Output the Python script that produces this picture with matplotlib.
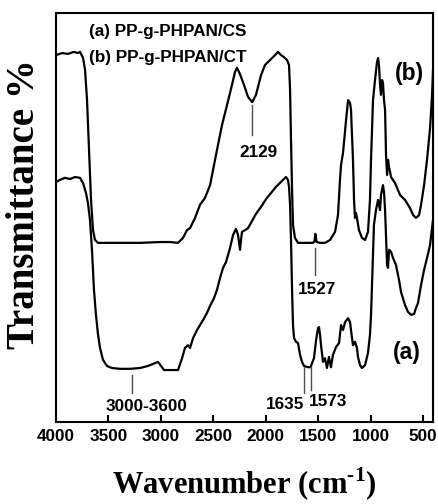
import matplotlib
matplotlib.use('Agg')
import matplotlib.pyplot as plt
from matplotlib import font_manager

# FTIR spectra, wavenumber in cm-1 and transmittance (arbitrary %, offset curves)
wn_b = [4000, 3943, 3886, 3828, 3790, 3771, 3742, 3723, 3704, 3685, 3666, 3647, 3628, 3599,
        3533, 3390, 3199, 3008, 2913, 2836, 2789, 2751, 2722, 2674, 2627, 2579, 2531, 2465,
        2417, 2369, 2322, 2293, 2274, 2255, 2236, 2207, 2169, 2129, 2093, 2045, 2007, 1959,
        1911, 1883, 1854, 1826, 1797, 1778, 1768, 1759, 1749, 1740, 1721, 1692, 1625, 1549,
        1535, 1527, 1515, 1482, 1435, 1387, 1339, 1311, 1292, 1282, 1263, 1234, 1215, 1196,
        1187, 1168, 1158, 1149, 1139, 1130, 1111, 1082, 1053, 1025, 1006, 996, 977, 958, 939,
        929, 920, 910, 901, 891, 882, 872, 862, 853, 843, 834, 824, 805, 767, 719, 672, 624,
        595, 567, 538, 519, 490, 462, 433, 414, 405]
tr_b = [89.7, 90.2, 90.0, 90.5, 90.2, 90.5, 89.0, 86.1, 78.7, 66.5, 54.3, 46.9, 44.5, 43.8,
        43.8, 43.8, 43.8, 44.0, 44.0, 43.8, 45.0, 46.9, 47.4, 49.9, 53.1, 54.8, 57.9, 66.5,
        72.6, 77.5, 82.4, 85.6, 86.6, 85.6, 84.4, 82.4, 79.5, 78.2, 80.0, 84.8, 87.3, 88.5,
        89.7, 90.5, 89.7, 89.2, 88.5, 87.3, 81.2, 68.9, 56.7, 48.2, 45.0, 43.8, 43.8, 43.8,
        44.2, 46.0, 44.0, 43.8, 43.8, 44.5, 46.5, 50.6, 59.2, 62.8, 65.8, 73.8, 78.7, 78.0,
        76.3, 64.1, 54.3, 49.9, 51.1, 49.9, 46.9, 45.0, 44.5, 46.5, 54.3, 64.1, 78.7, 83.6,
        88.0, 89.0, 87.3, 82.4, 80.0, 83.6, 82.9, 78.7, 76.3, 65.3, 60.4, 64.1, 62.3, 59.9,
        58.4, 55.5, 54.3, 52.3, 50.6, 49.9, 50.6, 53.1, 57.9, 64.1, 71.9, 80.0, 86.0]

wn_a = [4000, 3962, 3914, 3866, 3819, 3771, 3742, 3714, 3695, 3676, 3657, 3638, 3619, 3599,
        3580, 3552, 3514, 3466, 3390, 3294, 3199, 3123, 3056, 3027, 2999, 2970, 2913, 2836,
        2798, 2770, 2741, 2722, 2693, 2655, 2598, 2560, 2531, 2493, 2465, 2436, 2407, 2379,
        2360, 2341, 2312, 2284, 2264, 2245, 2236, 2226, 2198, 2169, 2140, 2093, 2045, 1997,
        1950, 1902, 1854, 1826, 1807, 1788, 1778, 1768, 1759, 1749, 1740, 1730, 1711, 1692,
        1673, 1654, 1635, 1597, 1573, 1540, 1520, 1501, 1492, 1482, 1473, 1454, 1435, 1416,
        1397, 1378, 1359, 1330, 1301, 1282, 1263, 1244, 1215, 1196, 1187, 1168, 1149, 1130,
        1120, 1101, 1082, 1053, 1025, 1006, 996, 987, 977, 968, 949, 929, 920, 910, 901, 882,
        872, 862, 853, 843, 834, 824, 805, 786, 758, 729, 710, 672, 643, 614, 586, 567, 548,
        519, 490, 462, 433, 405]
tr_a = [58.7, 59.2, 59.7, 59.4, 59.9, 59.7, 58.4, 56.0, 53.5, 49.4, 42.1, 32.3, 26.2, 21.3,
        18.1, 15.2, 13.7, 13.2, 13.0, 13.0, 13.2, 13.7, 14.4, 14.7, 13.7, 12.7, 12.7, 12.7,
        15.6, 18.1, 18.8, 18.1, 20.5, 22.5, 24.9, 26.7, 28.4, 30.3, 32.3, 35.2, 37.7, 39.1,
        40.8, 42.5, 45.7, 47.2, 45.7, 42.1, 44.5, 46.5, 46.9, 47.4, 48.7, 50.9, 52.6, 54.5,
        56.0, 57.5, 58.7, 59.4, 59.9, 59.2, 57.5, 53.1, 44.5, 32.3, 23.7, 20.5, 19.6, 19.3,
        16.4, 14.7, 13.7, 13.4, 13.4, 15.6, 20.0, 23.0, 23.2, 21.3, 18.8, 14.7, 15.6, 13.2,
        15.9, 13.4, 16.4, 18.3, 19.3, 23.7, 22.5, 24.4, 25.4, 24.4, 22.5, 18.8, 19.6, 18.1,
        15.9, 13.9, 13.2, 13.9, 16.9, 21.3, 26.2, 33.5, 42.1, 48.2, 51.8, 54.3, 53.1, 51.8,
        55.5, 57.9, 56.2, 51.8, 45.7, 38.4, 37.7, 42.1, 41.6, 40.1, 38.4, 34.7, 31.8, 28.6,
        26.9, 26.2, 26.4, 27.9, 29.1, 33.5, 37.2, 40.1, 43.3, 49.4]

# peak labels: text, wavenumber of the marker line, line ends, text position
peaks = [('2129', 2129, 77.5, 70.2, 2065, 66.0),
         ('1527', 1527, 42.5, 35.9, 1511, 32.3),
         ('3000-3600', 3275, 11.5, 7.1, 3132, 3.7),
         ('1635', 1635, 13.4, 7.1, 1816, 4.2),
         ('1573', 1573, 13.4, 7.8, 1406, 4.9)]
xticks = [4000, 3500, 3000, 2500, 2000, 1500, 1000, 500]

names = {f.name for f in font_manager.fontManager.ttflist}
if 'Liberation Sans Narrow' in names:
    sans, k = 'Liberation Sans Narrow', 1.0
else:
    sans, k = 'Liberation Sans', 0.82

plt.rcParams['mathtext.fontset'] = 'custom'
plt.rcParams['mathtext.rm'] = 'Liberation Serif:bold'
plt.rcParams['mathtext.bf'] = 'Liberation Serif:bold'

fig = plt.figure(figsize=(4.38, 5.04), dpi=100)
ax = fig.add_axes([56 / 438, 82 / 504, 377 / 438, 409 / 504])

ax.plot(wn_b, tr_b, color='black', lw=1.6)
ax.plot(wn_a, tr_a, color='black', lw=1.6)

for txt, x, y0, y1, tx, ty in peaks:
    ax.plot([x, x], [y0, y1], color='0.3', lw=1)
    ax.text(tx, ty, txt, ha='center', va='center', family=sans,
            fontweight='bold', fontsize=15 * k)

ax.text(3685, 95.4, '(a) PP-g-PHPAN/CS', ha='left', va='center', family=sans,
        fontweight='bold', fontsize=15 * k)
ax.text(3685, 89.0, '(b) PP-g-PHPAN/CT', ha='left', va='center', family=sans,
        fontweight='bold', fontsize=15 * k)
ax.text(633, 85.3, '(b)', ha='center', va='center', family=sans,
        fontweight='bold', fontsize=20 * k)
ax.text(652, 16.9, '(a)', ha='center', va='center', family=sans,
        fontweight='bold', fontsize=20 * k)

ax.set_xlim(4000, 405)
ax.set_ylim(0, 100)
ax.set_xticks(xticks)
ax.set_yticks([])
ax.tick_params(axis='x', direction='in', length=5, width=1.5, pad=5)
for lab in ax.get_xticklabels():
    lab.set_family(sans)
    lab.set_fontweight('bold')
    lab.set_fontsize(15 * k)
for sp in ax.spines.values():
    sp.set_linewidth(1.5)

fig.text(244 / 438, 1 - 484 / 504, r'Wavenumber (cm$^{\text{-1}}$)', ha='center',
         va='center', family='Liberation Serif', fontweight='bold', fontsize=22)
fig.text(25 / 438, 1 - 204 / 504, 'Transmittance %', rotation=90, ha='center',
         va='center', family='Liberation Serif', fontweight='bold', fontsize=28)

fig.savefig('out.png', dpi=100)
